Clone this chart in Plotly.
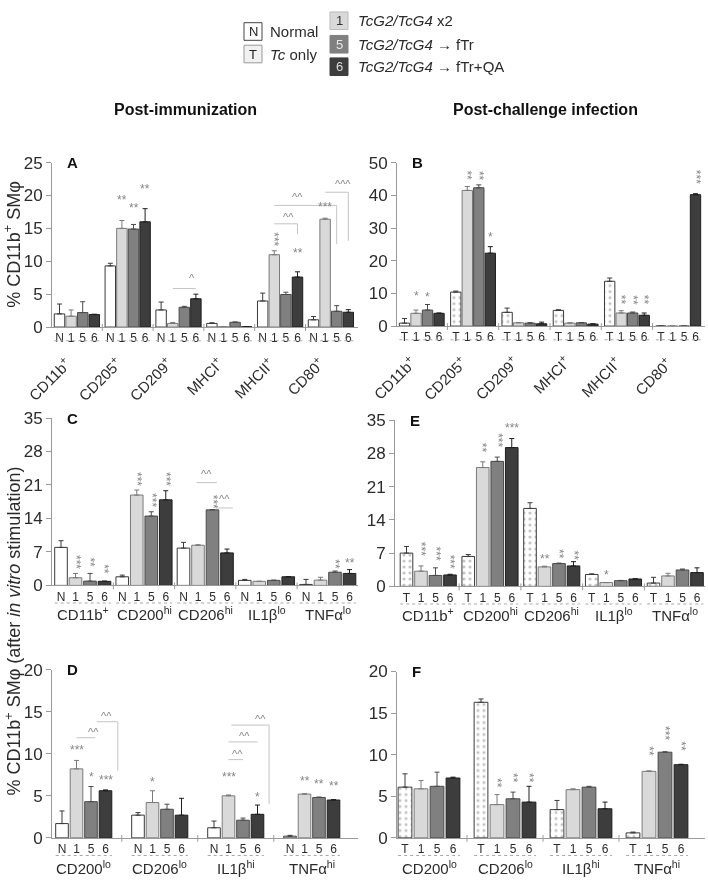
import plotly.graph_objects as go

W, H = 708, 888

# ---------------- data ----------------
GROUPS_AB = ["CD11b<sup>+</sup>", "CD205<sup>+</sup>", "CD209<sup>+</sup>",
             "MHCI<sup>+</sup>", "MHCII<sup>+</sup>", "CD80<sup>+</sup>"]
GROUPS_CE = ["CD11b<sup>+</sup>", "CD200<sup>hi</sup>", "CD206<sup>hi</sup>",
             "IL1β<sup>lo</sup>", "TNFα<sup>lo</sup>"]
GROUPS_DF = ["CD200<sup>lo</sup>", "CD206<sup>lo</sup>", "IL1β<sup>hi</sup>", "TNFα<sup>hi</sup>"]

LABELS_N = ["N", "1", "5", "6"]
LABELS_T = ["T", "1", "5", "6"]

# Panel A (post-immunization)
A_N = [2.0, 9.3, 2.6, 0.55, 3.96, 1.1]
A_1 = [1.65, 15.0, 0.55, 0.05, 11.0, 16.4]
A_5 = [2.2, 14.9, 3.0, 0.72, 4.95, 2.4]
A_6 = [1.9, 16.0, 4.3, 0.05, 7.6, 2.25]
A_N_err = [1.5, 0.4, 1.2, 0.1, 1.2, 0.5]
A_1_err = [0.95, 1.2, 0.15, 0.0, 0.6, 0.15]
A_5_err = [1.65, 0.7, 0.15, 0.05, 0.35, 0.85]
A_6_err = [0.05, 2.0, 0.7, 0.0, 0.8, 0.4]

# Panel B (post-challenge)
B_T = [0.9, 10.4, 4.2, 4.8, 13.7, 0.0]
B_1 = [3.9, 41.5, 1.0, 0.9, 4.0, 0.0]
B_5 = [4.9, 42.3, 0.9, 1.0, 4.0, 0.0]
B_6 = [3.9, 22.3, 0.7, 0.6, 3.3, 40.2]
B_T_err = [1.4, 0.3, 1.3, 0.2, 1.0, 0.0]
B_1_err = [1.0, 1.2, 0.1, 0.1, 0.7, 0.0]
B_5_err = [1.7, 0.9, 0.15, 0.1, 0.3, 0.0]
B_6_err = [0.1, 2.0, 0.5, 0.1, 0.7, 0.3]

# Panel C
C_N = [7.95, 1.8, 7.8, 1.05, 0.2]
C_1 = [1.6, 18.9, 8.4, 0.85, 1.1]
C_5 = [0.9, 14.5, 15.8, 1.05, 2.75]
C_6 = [0.85, 17.9, 6.8, 1.8, 2.5]
C_N_err = [1.4, 0.35, 1.2, 0.2, 1.05]
C_1_err = [0.9, 1.05, 0.1, 0.0, 0.6]
C_5_err = [1.6, 0.9, 0.05, 0.05, 0.25]
C_6_err = [0.05, 1.9, 0.8, 0.05, 0.8]

# Panel E
E_T = [7.0, 6.3, 16.4, 2.5, 0.7]
E_1 = [3.2, 25.0, 4.1, 0.8, 2.2]
E_5 = [2.3, 26.3, 4.8, 1.2, 3.45]
E_6 = [2.4, 29.2, 4.3, 1.55, 2.9]
E_T_err = [1.4, 0.4, 1.2, 0.15, 1.2]
E_1_err = [1.1, 1.2, 0.15, 0.0, 0.55]
E_5_err = [1.6, 0.9, 0.1, 0.05, 0.2]
E_6_err = [0.15, 1.9, 0.9, 0.05, 1.0]

# Panel D
D_N = [1.7, 2.7, 1.2, 0.2]
D_1 = [8.2, 4.2, 5.0, 5.2]
D_5 = [4.3, 3.4, 2.1, 4.8]
D_6 = [5.6, 2.7, 2.8, 4.5]
D_N_err = [1.5, 0.3, 0.8, 0.1]
D_1_err = [1.0, 1.4, 0.1, 0.05]
D_5_err = [1.8, 0.6, 0.25, 0.05]
D_6_err = [0.1, 2.0, 1.1, 0.05]

# Panel F
F_T = [6.1, 16.3, 3.4, 0.6]
F_1 = [5.9, 4.0, 5.8, 8.0]
F_5 = [6.2, 4.7, 6.1, 10.3]
F_6 = [7.2, 4.3, 3.5, 8.8]
F_T_err = [1.6, 0.4, 1.1, 0.1]
F_1_err = [1.0, 1.2, 0.1, 0.05]
F_5_err = [1.7, 0.8, 0.1, 0.05]
F_6_err = [0.1, 1.9, 0.8, 0.05]

# significance stars: (group, bar, text, value, vertical)
A_STARS = [(1, 1, "**", 19.3, False), (1, 2, "**", 18.1, False), (1, 3, "**", 21.0, False),
           (4, 1, "***", 13.3, True), (4, 3, "**", 11.2, False), (5, 1, "***", 18.2, False)]
B_STARS = [(0, 1, "*", 9.1, False), (0, 2, "*", 8.9, False), (1, 1, "**", 46.0, True),
           (1, 2, "**", 46.0, True), (1, 3, "*", 27.4, False), (4, 1, "**", 8.0, True),
           (4, 2, "**", 8.0, True), (4, 3, "**", 8.0, True), (5, 3, "***", 45.8, True)]
C_STARS = [(0, 1, "***", 5.0, True), (0, 2, "**", 4.8, True), (0, 3, "**", 3.5, True),
           (1, 1, "***", 22.3, True), (1, 2, "***", 17.8, True), (1, 3, "***", 22.3, True),
           (2, 2, "***", 17.6, True), (4, 2, "**", 4.4, True), (4, 3, "**", 4.6, False)]
E_STARS = [(0, 1, "***", 7.9, True), (0, 2, "***", 7.0, True), (0, 3, "***", 5.2, True),
           (1, 1, "**", 29.2, True), (1, 2, "***", 30.7, True), (1, 3, "***", 33.4, False),
           (2, 1, "**", 5.7, False), (2, 2, "**", 6.8, True), (2, 3, "**", 6.6, True),
           (3, 1, "*", 2.4, False)]
D_STARS = [(0, 1, "***", 10.4, False), (0, 2, "*", 7.2, False), (0, 3, "***", 6.9, False),
           (1, 1, "*", 6.6, False), (2, 1, "***", 7.2, False), (2, 3, "*", 4.8, False),
           (3, 1, "**", 6.7, False), (3, 2, "**", 6.4, False), (3, 3, "**", 6.2, False)]
F_STARS = [(1, 1, "**", 6.6, True), (1, 2, "**", 7.2, True), (1, 3, "**", 7.2, True),
           (3, 1, "**", 10.4, True), (3, 2, "***", 12.6, True), (3, 3, "**", 11.0, True)]

# comparison brackets: (g0, j0, g1, j1, level, drop_to, label, label_g, label_j, label_level)
A_BRACKETS = [(2, 1, 2, 3, 5.85, None, "^", 2, 2.7, 7.4),
              (4, 1, 4, 3, 15.7, 14.1, "^^", 4, 2.2, 16.8),
              (4, 1, 5, 2, 18.5, 12.6, "^^", 4, 3.0, 19.7),
              (5, 1, 5, 3, 20.5, 13.1, "^^^", 5, 2.5, 21.8)]
C_BRACKETS = [(2, 0.9, 2, 2.3, 21.5, None, "^^", 2, 1.6, 23.2),
              (2, 2.3, 2, 3.4, 16.2, None, "^^", 2, 2.85, 18.0)]
D_BRACKETS = [(0, 1, 0, 2.3, 11.9, None, "^^", 0, 2.2, 12.6),
              (0, 2.4, 0, 3.85, 13.8, 8.0, "^^", 0, 3.1, 14.5),
              (2, 1, 2, 2, 9.3, None, "^^", 2, 1.6, 10.0),
              (2, 1, 2, 3, 11.4, None, "^^", 2, 2.1, 12.1),
              (2, 1.2, 2, 3.8, 13.4, 4.0, "^^", 2, 3.2, 14.1)]

# ---------------- styling ----------------
FILLS = ["white", "#d9d9d9", "#808080", "#3d3d3d"]
LINES = ["#3a3a3a", "#7a7a7a", "#4a4a4a", "#1e1e1e"]
AX = "#9a9a9a"
TXT = "#2b2b2b"
STAR = "#858585"
FONT = "Liberation Sans, Arial, sans-serif"

PANELS = [
    dict(letter="A", groups=GROUPS_AB, labels=LABELS_N, vals=[A_N, A_1, A_5, A_6],
         errs=[A_N_err, A_1_err, A_5_err, A_6_err], yticks=[0, 5, 10, 15, 20, 25],
         box=(52, 358, 157, 325), first=59.5, slot=11.6, gstep=50.8, bw=0.9,
         rotate=True, under=14, name_off=24, stars=A_STARS, brackets=A_BRACKETS),
    dict(letter="B", groups=GROUPS_AB, labels=LABELS_T, vals=[B_T, B_1, B_5, B_6],
         errs=[B_T_err, B_1_err, B_5_err, B_6_err], yticks=[0, 10, 20, 30, 40, 50],
         box=(397, 705, 157, 324), first=404.5, slot=11.5, gstep=51.3, bw=0.9,
         rotate=True, under=14, name_off=24, stars=B_STARS, brackets=[]),
    dict(letter="C", groups=GROUPS_CE, labels=LABELS_N, vals=[C_N, C_1, C_5, C_6],
         errs=[C_N_err, C_1_err, C_5_err, C_6_err], yticks=[0, 7, 14, 21, 28, 35],
         box=(52, 358, 418, 589), first=61, slot=14.5, gstep=61.25, bw=0.87,
         rotate=False, under=18, name_off=29, stars=C_STARS, brackets=C_BRACKETS),
    dict(letter="E", groups=GROUPS_CE, labels=LABELS_T, vals=[E_T, E_1, E_5, E_6],
         errs=[E_T_err, E_1_err, E_5_err, E_6_err], yticks=[0, 7, 14, 21, 28, 35],
         box=(395, 705, 420, 590), first=406.5, slot=14.5, gstep=61.75, bw=0.87,
         rotate=False, under=18, name_off=29, stars=E_STARS, brackets=[]),
    dict(letter="D", groups=GROUPS_DF, labels=LABELS_N, vals=[D_N, D_1, D_5, D_6],
         errs=[D_N_err, D_1_err, D_5_err, D_6_err], yticks=[0, 5, 10, 15, 20],
         box=(52, 358, 675, 847), first=62, slot=14.5, gstep=76, bw=0.87,
         rotate=False, under=18, name_off=30, stars=D_STARS, brackets=D_BRACKETS),
    dict(letter="F", groups=GROUPS_DF, labels=LABELS_T, vals=[F_T, F_1, F_5, F_6],
         errs=[F_T_err, F_1_err, F_5_err, F_6_err], yticks=[0, 5, 10, 15, 20],
         box=(397, 705, 677, 847), first=405, slot=16, gstep=76, bw=0.86,
         rotate=False, under=18, name_off=30, stars=F_STARS, brackets=[]),
]

fig = go.Figure()
shapes = []
annotations = []
layout = {}

for i, p in enumerate(PANELS):
    k = i + 1
    xr = "x" if k == 1 else f"x{k}"
    yr = "y" if k == 1 else f"y{k}"
    xname = "xaxis" if k == 1 else f"xaxis{k}"
    yname = "yaxis" if k == 1 else f"yaxis{k}"
    x0, x1, y0, y1 = p["box"]
    slot = p["slot"]
    G = p["gstep"] / slot
    ng = len(p["groups"])
    hpx = y1 - y0
    ymax = p["yticks"][-1]
    is_t = p["labels"][0] == "T"

    def pos(g, j, G=G):
        return g * G + j

    for j in range(4):
        xs = [pos(g, j) for g in range(ng)]
        marker = dict(color=FILLS[j], line=dict(color=LINES[j], width=1))
        if j == 0 and is_t:
            marker["pattern"] = dict(shape=".", fgcolor="#8a8a8a", bgcolor="white",
                                     size=6, solidity=0.22)
        fig.add_trace(go.Bar(
            x=xs, y=p["vals"][j], width=p["bw"], marker=marker,
            error_y=dict(type="data", symmetric=False, array=p["errs"][j],
                         arrayminus=[0] * ng, color=LINES[j], thickness=1, width=2.5),
            xaxis=xr, yaxis=yr, showlegend=False, hoverinfo="skip"))

    layout[xname] = dict(
        domain=[x0 / W, x1 / W],
        range=[(x0 - p["first"]) / slot, (x1 - p["first"]) / slot],
        anchor=yr, showline=True, linecolor=AX, linewidth=1, ticks="",
        tickvals=[pos(g, j) for g in range(ng) for j in range(4)],
        ticktext=p["labels"] * ng, tickfont=dict(size=12, color=TXT, family=FONT),
        showgrid=False, zeroline=False, fixedrange=True)
    layout[yname] = dict(
        domain=[1 - y1 / H, 1 - y0 / H], range=[0, ymax], anchor=xr,
        tickvals=p["yticks"], showline=True, linecolor=AX, linewidth=1,
        ticks="outside", ticklen=5, tickcolor=AX,
        tickfont=dict(size=17, color=TXT, family=FONT),
        showgrid=False, zeroline=False, fixedrange=True)

    for g in range(ng):
        shapes.append(dict(type="line", xref=xr, yref=f"{yr} domain",
                           x0=pos(g, 0) - p["bw"] / 2, x1=pos(g, 3) + p["bw"] / 2,
                           y0=-p["under"] / hpx, y1=-p["under"] / hpx,
                           line=dict(color="#a8a8a8", width=1, dash="dot")))
        if g < ng - 1:
            xs_ = pos(g, 3) + (G - 3) / 2
            shapes.append(dict(type="line", xref=xr, yref=f"{yr} domain",
                               x0=xs_, x1=xs_, y0=-4 / hpx, y1=3 / hpx,
                               line=dict(color=AX, width=1)))
        if p["rotate"]:
            annotations.append(dict(
                x=pos(g, 1.5), xref=xr, y=-p["name_off"] / hpx, yref=f"{yr} domain",
                text=p["groups"][g], textangle=-45, xanchor="right", yanchor="top",
                showarrow=False, font=dict(size=15, color=TXT, family=FONT)))
        else:
            annotations.append(dict(
                x=pos(g, 1.5), xref=xr, y=-p["name_off"] / hpx, yref=f"{yr} domain",
                text=p["groups"][g], xanchor="center", yanchor="middle",
                showarrow=False, font=dict(size=15, color=TXT, family=FONT)))

    # stars (vertical stacks drawn as rotated text)
    for (g, j, txt_, val, vert) in p["stars"]:
        annotations.append(dict(
            x=pos(g, j), xref=xr, y=val, yref=yr, text=txt_,
            textangle=90 if vert else 0, showarrow=False,
            xanchor="center", yanchor="middle",
            font=dict(size=12, color=STAR, family=FONT)))

    for (g0, j0, g1, j1, lev, drop, lab, lg, lj, ll) in p["brackets"]:
        shapes.append(dict(type="line", xref=xr, yref=yr, x0=pos(g0, j0), x1=pos(g1, j1),
                           y0=lev, y1=lev, line=dict(color="#c4c4c4", width=1)))
        if drop is not None:
            shapes.append(dict(type="line", xref=xr, yref=yr, x0=pos(g1, j1), x1=pos(g1, j1),
                               y0=lev, y1=drop, line=dict(color="#c4c4c4", width=1)))
        annotations.append(dict(x=pos(lg, lj), xref=xr, y=ll, yref=yr, text=lab,
                                showarrow=False, xanchor="center", yanchor="middle",
                                font=dict(size=11, color=STAR, family=FONT)))

    annotations.append(dict(x=(x0 + 13) / W, y=1 - y0 / H, xref="paper", yref="paper",
                            text=f"<b>{p['letter']}</b>", showarrow=False,
                            xanchor="left", yanchor="middle",
                            font=dict(size=15, color="#111", family=FONT)))


def txt(x, y, s, size=16, color=TXT, anchor="left", angle=0):
    annotations.append(dict(x=x / W, y=1 - y / H, xref="paper", yref="paper", text=s,
                            showarrow=False, xanchor=anchor, yanchor="middle",
                            textangle=angle,
                            font=dict(size=size, color=color, family=FONT)))


def box(xa, ya, xb, yb, fill, line="#555"):
    shapes.append(dict(type="rect", xref="paper", yref="paper",
                       x0=xa / W, x1=xb / W, y0=1 - yb / H, y1=1 - ya / H,
                       fillcolor=fill, line=dict(color=line, width=1)))


# column titles
txt(185, 103, "<b>Post-immunization</b>", 16, "#111", "center")
txt(545, 103, "<b>Post-challenge infection</b>", 16, "#111", "center")

# y-axis titles
txt(13, 241, "% CD11b<sup>+</sup> SMφ", 18, TXT, "center", -90)
txt(13, 636, "% CD11b<sup>+</sup> SMφ (after <i>in vitro</i> stimulation)", 18, TXT, "center", -90)

# legend (custom)
box(244, 14, 262, 32, "white", "#444")
txt(253, 23, "N", 13, "#222", "center")
txt(268, 23, "Normal", 15)
box(244, 37, 262, 55, "#f1f1f1", "#999")
txt(253, 46, "T", 13, "#222", "center")
txt(268, 46, "<i>Tc</i> only", 15)

box(330, 3, 348, 21, "#d9d9d9", "#bbb")
txt(339, 12, "1", 13, "#333", "center")
txt(356, 12, "<i>TcG2/TcG4</i> x2", 15)
box(330, 27, 348, 45, "#808080", "#808080")
txt(339, 36, "5", 13, "#e6e6e6", "center")
txt(356, 36, "<i>TcG2/TcG4</i> → fTr", 15)
box(330, 50, 348, 68, "#3d3d3d", "#3d3d3d")
txt(339, 59, "6", 13, "#dddddd", "center")
txt(356, 59, "<i>TcG2/TcG4</i> → fTr+QA", 15)

fig.update_layout(
    width=W, height=H, margin=dict(l=0, r=0, t=0, b=0),
    paper_bgcolor="white", plot_bgcolor="white",
    barmode="overlay", showlegend=False,
    font=dict(family=FONT, color=TXT),
    shapes=shapes, annotations=annotations, **layout)

fig.write_html(
    "out.html", config={"displayModeBar": False},
    post_script=("document.body.style.margin='0px';"
                 "document.querySelectorAll('.main-svg').forEach(function(s){"
                 "s.style.willChange='transform';});"))
